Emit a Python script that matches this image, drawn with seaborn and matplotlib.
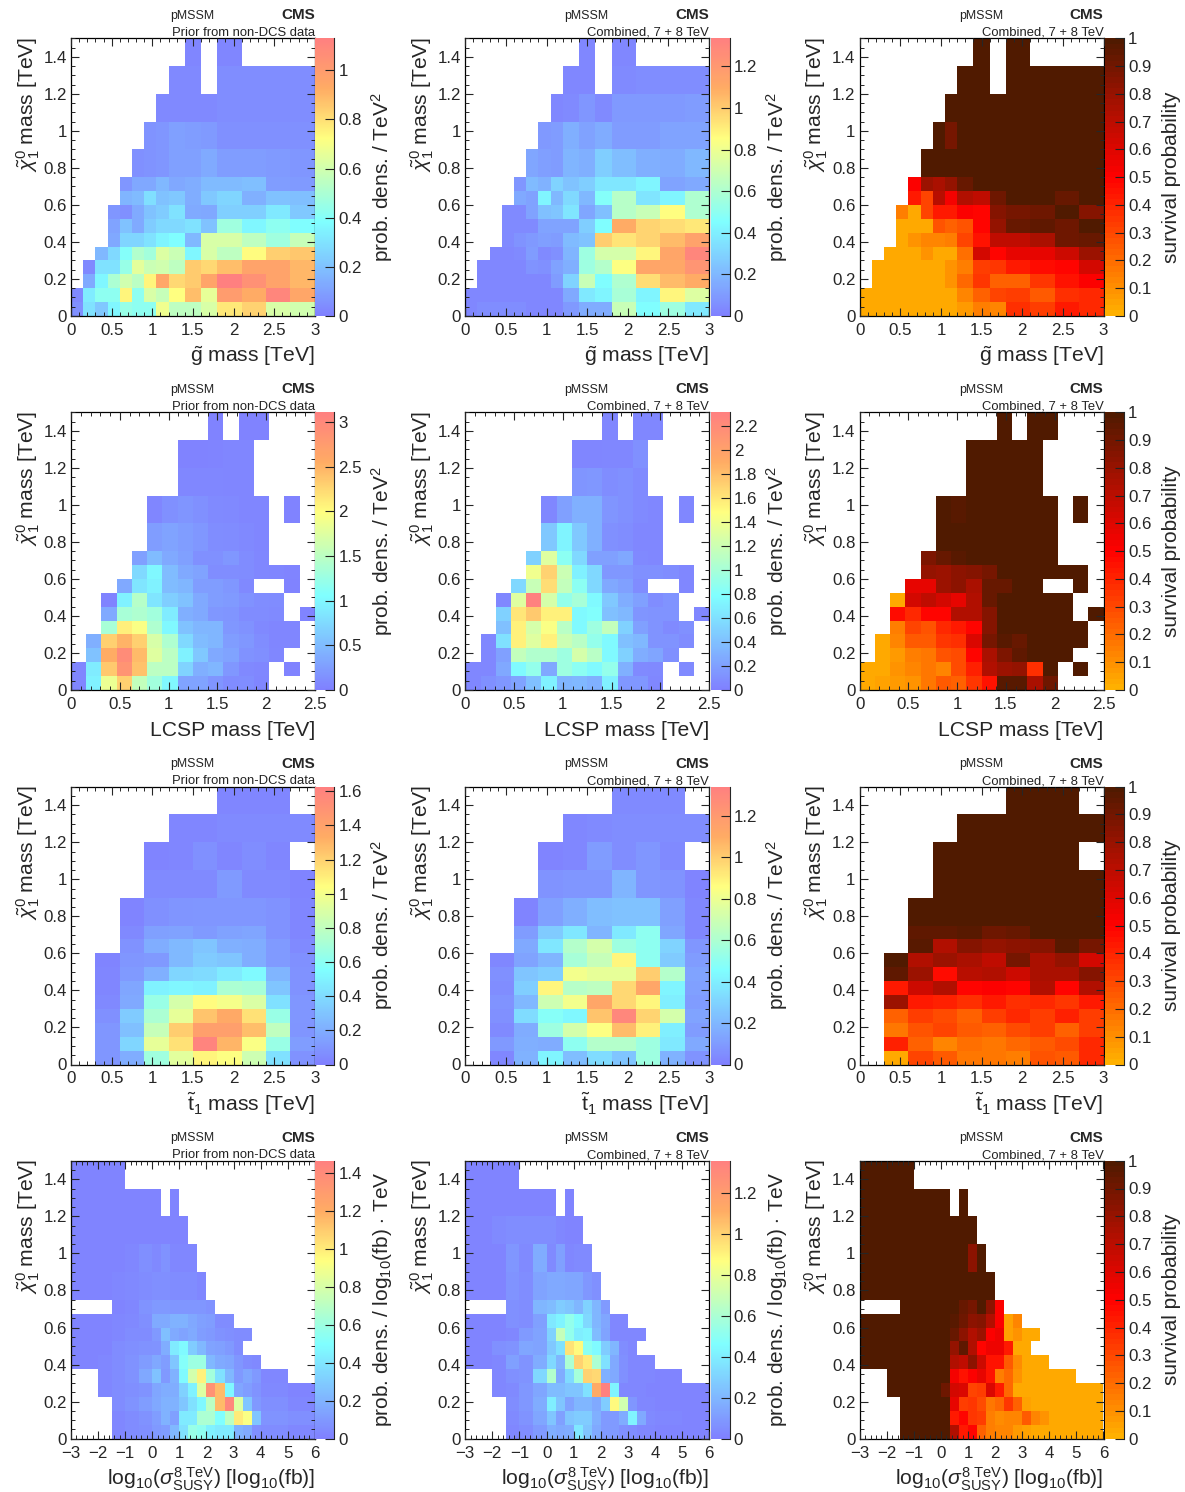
import numpy as np
import matplotlib
matplotlib.use("Agg")
import matplotlib.pyplot as plt
from matplotlib.colors import LinearSegmentedColormap
import seaborn as sns

n = np.nan

# Bin edges of the four scans
y_edges = [0, .075, .15, .225, .3, .375, .45, .525, .6, .675, .75, .9, 1.05, 1.2, 1.35, 1.5]
gluino_edges = [0, .15, .3, .45, .6, .75, .9, 1.05, 1.2, 1.4, 1.6, 1.8, 2.1, 2.4, 2.7, 3]
lcsp_edges = [i * 2.5 / 16 for i in range(17)]
stop_edges = [0, .3, .6, .9, 1.2, 1.5, 1.8, 2.1, 2.4, 2.7, 3]
sigma_edges = [-3, -2, -1.5, -1, -.5, 0, 1/3, 2/3, 1, 4/3, 5/3, 2, 7/3, 8/3, 3, 10/3, 11/3, 4, 5, 6]

# Values, rows written from top (1.35-1.5) to bottom (0-0.075)
gluino_prior = [
    [n]*9 + [.02, n, .02, n, n, n],
    [n]*8 + [.03, .03, n, .04, .04, .04, .04],
    [n]*7 + [.03, .03, .03, .03, .04, .04, .04, .04],
    [n]*6 + [.06, .07, .1, .09, .08, .05, .05, .05, .05],
    [n]*5 + [.05, .06, .07, .1, .1, .13, .09, .09, .08, .07],
    [n]*4 + [.07, .12, .12, .17, .12, .14, .18, .18, .19, .09, .08],
    [n]*4 + [.16, .18, .29, .2, .22, .14, .22, .26, .15, .2, .19],
    [n]*3 + [.07, .05, .13, .2, .23, .3, .13, .12, .24, .24, .32, .22],
    [n]*3 + [.11, .2, .13, .23, .27, .27, .3, .2, .47, .36, .42, .38],
    [n]*3 + [.12, .26, .26, .3, .35, .38, .17, .62, .62, .55, .47, .57],
    [n]*2 + [.17, .27, .4, .52, .48, .63, .58, .36, .62, .55, .73, .84, .86],
    [n] + [.03, .3, .3, .45, .65, .58, .6, .55, .85, .82, .88, .97, .97, .9],
    [n] + [.13, .36, .5, .6, .54, .75, .95, .82, .85, .96, 1.13, 1.05, .97, .9],
    [.03, .33, .42, .42, .75, .42, .62, .57, .72, .88, .66, 1.0, .93, 1.1, .95],
    [.05, .3, .22, .36, .45, .42, .42, .68, .55, .55, .62, .78, .83, .62, .6],
]
gluino_comb = [
    [n]*9 + [.03, n, .03, n, n, n],
    [n]*8 + [.03, .03, n, .04, .05, .05, .05],
    [n]*7 + [.03, .04, .08, .04, .09, .09, .09, .1],
    [n]*6 + [.09, .1, .17, .12, .16, .1, .1, .13, .13],
    [n]*5 + [.14, .11, .1, .19, .17, .28, .22, .17, .16, .2],
    [n]*4 + [.08, .21, .18, .3, .24, .28, .37, .37, .42, .13, .15],
    [n]*4 + [.15, .12, .42, .2, .32, .2, .47, .63, .36, .42, .6],
    [n]*3 + [.04, .04, .12, .23, .25, .36, .14, .23, .63, .68, .86, .6],
    [n]*3 + [.04, .04, .04, .13, .13, .13, .28, .45, 1.1, .98, .95, .92],
    [n]*3 + [.04, .07, .09, .11, .1, .21, .24, 1.0, .93, .98, 1.05, 1.15],
    [n]*2 + [.03, .03, .04, .1, .04, .06, .19, .55, .72, .72, .88, 1.13, 1.3],
    [n] + [.03, .03, .03, .03, .07, .06, .12, .17, .55, .62, .85, 1.13, 1.12, 1.22],
    [n] + [.03, .03, .03, .03, .03, .03, .1, .3, .68, .45, .6, .95, 1.05, 1.1],
    [.03, .03, .03, .03, .03, .03, .03, .03, .15, .38, .42, .58, .42, .88, .75],
    [.03, .05, .05, .05, .05, .03, .03, .03, .09, .16, .16, .68, .45, .55, .38],
]
gluino_surv = [
    [n]*9 + [1, n, 1, n, n, n],
    [n]*8 + [1, 1, n, 1, 1, 1, 1],
    [n]*7 + [1, 1, 1, 1, 1, 1, 1, 1],
    [n]*6 + [1, .88, 1, 1, 1, 1, 1, 1, 1],
    [n]*5 + [1, 1, 1, 1, 1, 1, 1, 1, 1, 1],
    [n]*4 + [.5, .78, .75, .8, .93, 1, 1, 1, 1, 1, 1],
    [n]*4 + [.42, .3, .7, .52, .72, .68, .9, 1, 1, .93, 1],
    [n]*3 + [.15, .02, .3, .42, .43, .5, .48, .85, .88, .9, .99, .85],
    [n]*3 + [.02, .02, .02, .27, .22, .27, .48, .8, .92, .95, .9, .98],
    [n]*3 + [.02, .08, .12, .12, .15, .3, .45, .68, .68, .75, .9, .92],
    [n]*2 + [.02, .02, .02, .08, .02, .02, .18, .63, .48, .58, .58, .65, .78],
    [n] + [.02, .02, .02, .02, .03, .02, .08, .14, .33, .35, .42, .47, .48, .62],
    [n] + [.02, .02, .02, .02, .02, .02, .08, .2, .35, .22, .22, .35, .45, .5],
    [.03, .02, .02, .02, .02, .02, .02, .02, .12, .22, .3, .32, .25, .37, .38],
    [.03, .02, .02, .02, .02, .02, .02, .02, .07, .15, .12, .37, .32, .42, .38],
]

lcsp_prior = [
    [n]*9 + [.03, n, .03, .03, n, n, n],
    [n]*7 + [.03, .03, .04, .05, .05] + [n]*4,
    [n]*7 + [.07, .07, .07, .05, .05] + [n]*4,
    [n]*5 + [.05, .14, .18, .14, .09, .08, .05, .05] + [n, .03, n],
    [n]*5 + [.25, .3, .25, .2, .12, .1, .08, .06] + [n]*3,
    [n]*4 + [.27, .5, .35, .27, .14, .14, .2, .1, .07] + [n]*3,
    [n]*4 + [.75, 1.0, .5, .35, .3, .12, .12, .1, .07, .05, .04] + [n],
    [n]*3 + [.35, .85, .95, .5, .45, .25, .25, .2, .08] + [n, n, .03, n],
    [n]*2 + [.03, .95, 1.45, .85, .65, .55, .35, .25, .22, .15, .12, .1] + [n, n],
    [n]*2 + [.35, 1.35, 1.4, 1.3, .9, .4, .35, .2, .18, .1, .1, .09] + [n, .04],
    [n]*2 + [1.35, 2.1, 1.95, 1.4, 1.0, .55, .45, .45, .2, .15, .08, .05, .05] + [n],
    [n] + [.4, 2.3, 2.5, 2.3, 1.7, 1.4, .75, .5, .45, .25, .2, .12, .05, .05] + [n],
    [n] + [.55, 2.55, 2.95, 2.45, 1.75, 1.5, .95, .6, .35, .3, .15, .13, .07] + [n, n],
    [.05, .9, 2.35, 2.85, 2.4, 1.5, 1.5, .7, .4, .45, .2, .08, .07] + [n, .03, n],
    [.05, .95, 1.85, 2.3, 1.55, 1.3, 1.0, .3, .3, .18, .1, .12, .05] + [n]*3,
]
lcsp_comb = [
    [n]*9 + [.05, n, .05, .05, n, n, n],
    [n]*7 + [.04, .04, .05, .05, .1] + [n]*4,
    [n]*7 + [.13, .15, .09, .1, .07] + [n]*4,
    [n]*5 + [.05, .2, .3, .3, .13, .1, .07, .05] + [n, .05, n],
    [n]*5 + [.45, .72, .45, .3, .1, .09, .05, .05] + [n]*3,
    [n]*4 + [.5, 1.3, .85, .55, .2, .2, .25, .06, .05] + [n]*3,
    [n]*4 + [1.4, 1.7, 1.2, .7, .55, .15, .15, .1, .1, .09, .05] + [n],
    [n]*3 + [.55, 1.18, 1.65, 1.15, .85, .55, .25, .2, .08] + [n, n, .05, n],
    [n]*2 + [.05, 1.3, 2.3, 1.25, .9, 1.0, .75, .45, .28, .2, .09, .12] + [n, n],
    [n]*2 + [.5, 1.6, 1.75, 1.55, 1.55, .75, .8, .4, .35, .13, .12, .12] + [n, .05],
    [n]*2 + [.4, 1.55, 1.25, 1.45, 1.1, .75, .95, 1.15, .5, .2, .12, .07, .1] + [n],
    [n] + [.05, .6, 1.55, 1.3, 1.55, 1.2, 1.1, .9, .75, .4, .35, .12, .12, .08] + [n],
    [n] + [.05, .2, 1.15, 1.05, 1.05, .95, 1.25, 1.1, .75, .5, .28, .23, .1] + [n, n],
    [.05, .05, .25, .75, .9, .25, .95, .85, .75, .9, .3, .07, .06] + [n, .07, n],
    [.05, .1, .15, .22, .4, .7, .33, .35, .3, .7, .15, .15, .05] + [n]*3,
]
lcsp_surv = [
    [n]*9 + [1, n, 1, 1, n, n, n],
    [n]*7 + [1, 1, 1, 1, 1] + [n]*4,
    [n]*7 + [1, 1, 1, 1, 1] + [n]*4,
    [n]*5 + [1, .97, 1, 1, 1, 1, 1, 1] + [n, 1, n],
    [n]*5 + [1, 1, 1, 1, 1, 1, 1, 1] + [n]*3,
    [n]*4 + [.87, .93, .96, 1, 1, 1, 1, 1, 1] + [n]*3,
    [n]*4 + [.8, .78, .82, .85, .88, 1, 1, 1, 1, 1, 1] + [n],
    [n]*3 + [.58, .58, .78, .82, .75, .92, .92, 1, 1] + [n, n, 1, n],
    [n]*2 + [.02, .62, .68, .62, .58, .72, .92, 1, 1, 1, 1, 1] + [n, n],
    [n]*2 + [.47, .38, .48, .48, .72, .72, .85, 1, 1, 1, 1, 1] + [n, 1],
    [n]*2 + [.15, .3, .27, .38, .42, .48, .85, 1, 1, 1, 1, 1, 1] + [n],
    [n] + [.03, .12, .24, .24, .35, .37, .6, .88, .97, .93, 1, 1, 1, 1] + [n],
    [n] + [.03, .07, .14, .17, .27, .28, .48, .75, .87, .95, 1, 1, 1] + [n, n],
    [.02, .02, .09, .12, .17, .12, .28, .4, .72, .78, .8, .37, 1] + [n, 1, n],
    [.02, .05, .07, .08, .16, .25, .22, .35, .45, .97, .97, .75, .9] + [n]*3,
]

stop_prior = [
    [n]*6 + [.03, .03, .03] + [n],
    [n]*4 + [.03, .03, .05, .05, .05, .05],
    [n]*3 + [.02, .03, .07, .03, .06, .03] + [n],
    [n]*3 + [.05, .05, .05, .12, .05, .05, .02],
    [n]*2 + [.02, .07, .09, .1, .1, .1, .08, .03],
    [n]*2 + [.04, .14, .15, .12, .15, .16, .08, .03],
    [n]*2 + [.08, .2, .25, .3, .21, .2, .12, .05],
    [n] + [.02, .1, .11, .25, .33, .3, .2, .12, .07],
    [n] + [.03, .12, .21, .38, .4, .47, .53, .23, .08],
    [n] + [.03, .17, .5, .52, .5, .72, .7, .3, .08],
    [n] + [.04, .18, .65, .88, 1.05, 1.0, .9, .42, .1],
    [n] + [.07, .33, .72, .95, 1.25, 1.35, 1.15, .65, .1],
    [n] + [.1, .28, .82, 1.22, 1.42, 1.42, 1.27, .8, .09],
    [n] + [.1, .38, .95, 1.15, 1.6, 1.3, 1.02, .65, .13],
    [n] + [.1, .2, .68, .93, 1.08, 1.03, .85, .42, .08],
]
stop_comb = [
    [n]*6 + [.04, .04, .04] + [n],
    [n]*4 + [.03, .04, .05, .05, .05, .05],
    [n]*3 + [.02, .03, .1, .05, .08, .04] + [n],
    [n]*3 + [.07, .08, .08, .19, .08, .07, .02],
    [n]*2 + [.02, .12, .17, .22, .24, .24, .12, .03],
    [n]*2 + [.1, .27, .37, .19, .38, .5, .14, .03],
    [n]*2 + [.15, .37, .62, .72, .55, .5, .3, .08],
    [n] + [.03, .13, .19, .58, .68, .88, .5, .27, .1],
    [n] + [.06, .25, .28, .82, .78, .78, 1.0, .62, .13],
    [n] + [.05, .28, .88, .63, .65, .97, 1.13, .42, .12],
    [n] + [.07, .2, .7, .82, 1.13, .97, .88, .4, .1],
    [n] + [.06, .33, .48, .43, 1.03, 1.3, .98, .72, .13],
    [n] + [.04, .16, .55, .72, .85, 1.05, .9, .4, .1],
    [n] + [.09, .17, .16, .5, .62, .62, .55, .38, .15],
    [n] + [.03, .18, .42, .22, .33, .25, .55, .18, .07],
]
stop_surv = [
    [n]*6 + [1, 1, 1] + [n],
    [n]*4 + [1, 1, 1, 1, 1, 1],
    [n]*3 + [1, 1, 1, 1, 1, 1] + [n],
    [n]*3 + [1, 1, .98, 1, 1, 1, 1],
    [n]*2 + [1, 1, 1, 1, 1, 1, 1, 1],
    [n]*2 + [.95, .95, .96, .9, .93, 1, 1, 1],
    [n]*2 + [.97, .72, .85, .8, .82, .85, .97, .88],
    [n] + [1, .72, .78, .75, .68, .88, .75, .8, .62],
    [n] + [.95, .78, .47, .7, .72, .65, .75, .75, .85],
    [n] + [.42, .65, .72, .48, .5, .48, .72, .48, .72],
    [n] + [.78, .43, .4, .37, .42, .37, .38, .35, .42],
    [n] + [.22, .33, .28, .22, .32, .38, .33, .4, .33],
    [n] + [.17, .27, .3, .24, .23, .28, .32, .23, .33],
    [n] + [.4, .22, .13, .18, .17, .2, .24, .28, .38],
    [n] + [.02, .3, .25, .17, .16, .15, .27, .25, .38],
]

sigma_prior = [
    [.02, .02, .02] + [n]*16,
    [.02, .02, .02, .02, .02, .02, n, .02] + [n]*11,
    [.02, .02, .02, .02, .02, .02, .02, .02, .02] + [n]*10,
    [.02, .02, .02, .03, .06, .04, .07, .03, .03, .03] + [n]*9,
    [.02, .02, .03, .04, .05, .06, .06, .05, .05, .05, .03] + [n]*8,
    [n]*2 + [.02, .03, .08, .1, .1, .09, .09, .09, .09, .07] + [n]*7,
    [.02, .02, .03, .04, .06, .17, .17, .2, .2, .16, .13, .12, .05, .05] + [n]*5,
    [.02, .02, .03, .05, .05, .1, .25, .17, .14, .17, .12, .1, .07, .06, .05, .05] + [n]*3,
    [.02, .02, .05, .06, .07, .08, .18, .42, .48, .3, .22, .14, .13, .1, .05] + [n]*4,
    [.02, .03, .05, .07, .11, .16, .12, .28, .52, .6, .6, .22, .17, .15, .09, .05, .04] + [n]*2,
    [n] + [.03, .05, .07, .16, .26, .1, .2, .48, .78, .98, .62, .38, .22, .1, .15, .1, .03] + [n],
    [n] + [.03, .05, .06, .08, .15, .18, .18, .32, .45, .82, 1.35, 1.15, .47, .15, .12, .08, .04, .02],
    [n]*2 + [.05, .08, .12, .16, .2, .2, .28, .38, .47, .7, 1.15, 1.42, .82, .28, .1, .06, .03],
    [n]*2 + [.03, .05, .07, .12, .2, .13, .42, .42, .65, .65, .5, .7, 1.0, .92, .27, .08, .06],
    [n]*2 + [.03, .05, .06, .1, .12, .22, .38, .58, .55, .45, .42, .42, .2, .17, .06, .05, .03],
]
sigma_comb = [
    [.02, .02, .02] + [n]*16,
    [.02, .02, .02, .02, .02, .02, n, .02] + [n]*11,
    [.02, .04, .05, .05, .05, .05, .03, .02, .02] + [n]*10,
    [.02, .02, .08, .04, .16, .04, .12, .03, .04, .04] + [n]*9,
    [.02, .02, .07, .05, .13, .15, .15, .14, .14, .09, .06] + [n]*8,
    [n]*2 + [.06, .05, .2, .22, .28, .25, .2, .3, .2, .1] + [n]*7,
    [.02, .02, .06, .05, .12, .38, .42, .52, .45, .32, .2, .14, .03, .03] + [n]*5,
    [.02, .02, .03, .1, .13, .3, .68, .52, .4, .42, .22, .13, .03, .03, .03, .03] + [n]*3,
    [.02, .06, .07, .14, .13, .26, .35, .95, .88, .5, .45, .28, .2, .05, .03] + [n]*4,
    [.02, .03, .12, .07, .16, .32, .2, .6, 1.0, .93, .6, .35, .15, .06, .03, .03, .03] + [n]*2,
    [n] + [.03, .06, .07, .32, .62, .16, .33, .58, 1.0, .98, .18, .15, .06, .03, .03, .03, .02] + [n],
    [n] + [.03, .04, .09, .14, .22, .22, .25, .25, .35, 1.12, 1.35, .42, .03, .03, .03, .02, .02, .02],
    [n]*2 + [.05, .09, .16, .4, .25, .13, .2, .2, .15, .28, .88, .72, .08, .03, .03, .02, .02],
    [n]*2 + [.04, .07, .14, .25, .12, .25, .28, .28, .17, .1, .1, .16, .42, .15, .04, .03, .02],
    [n]*2 + [.03, .05, .1, .17, .15, .16, .38, .25, .15, .1, .1, .06, .05, .03, .03, .02, .02],
]
sigma_surv = [
    [1, 1, 1] + [n]*16,
    [1, 1, 1, 1, 1, 1, n, 1] + [n]*11,
    [1, 1, 1, 1, 1, 1, 1, 1, 1] + [n]*10,
    [1, 1, 1, 1, 1, 1, 1, 1, .82, 1] + [n]*9,
    [1, 1, 1, 1, 1, 1, 1, 1, 1, 1, 1] + [n]*8,
    [n]*2 + [1, 1, 1, 1, 1, .93, .88, .98, .82, .5] + [n]*7,
    [1, 1, 1, 1, 1, 1, .96, .9, .82, .85, .72, .5, .05, .13] + [n]*5,
    [1, 1, 1, 1, 1, .98, .93, .82, .73, .78, .5, .55, .05, .08, .02, .02] + [n]*3,
    [1, 1, 1, 1, 1, 1, .8, .95, .72, .48, .55, .55, .42, .02, .02] + [n]*4,
    [1, 1, 1, 1, 1, .98, .72, .68, .82, .65, .45, .45, .25, .1, .02, .02, .02] + [n]*2,
    [n] + [1, 1, 1, 1, 1, .52, .45, .5, .58, .45, .15, .2, .08, .02, .02, .02, .02] + [n],
    [n] + [1, 1, 1, 1, .9, .62, .6, .3, .32, .6, .42, .2, .03, .02, .02, .02, .02, .02],
    [n]*2 + [1, 1, 1, 1, .58, .33, .35, .28, .17, .2, .35, .22, .05, .02, .02, .02, .02],
    [n]*2 + [1, 1, 1, 1, .42, .48, .35, .33, .15, .1, .12, .13, .25, .13, .08, .02, .02],
    [n]*2 + [1, 1, 1, 1, .72, .42, .48, .22, .15, .13, .12, .06, .05, .02, .02, .02, .02],
]

# Colour scale tops and tick labels
scale_tops = [[1.13, 1.335, 1], [3.11, 2.31, 1], [1.627, 1.34, 1], [1.463, 1.356, 1]]
cbar_ticks = [
    [[0, .2, .4, .6, .8, 1], [0, .2, .4, .6, .8, 1, 1.2]],
    [[0, .5, 1, 1.5, 2, 2.5, 3], [0, .2, .4, .6, .8, 1, 1.2, 1.4, 1.6, 1.8, 2, 2.2]],
    [[0, .2, .4, .6, .8, 1, 1.2, 1.4, 1.6], [0, .2, .4, .6, .8, 1, 1.2]],
    [[0, .2, .4, .6, .8, 1, 1.2, 1.4], [0, .2, .4, .6, .8, 1, 1.2]],
]
surv_ticks = [0, .1, .2, .3, .4, .5, .6, .7, .8, .9, 1]
y_ticks = [0, .2, .4, .6, .8, 1, 1.2, 1.4]

sns.set_style("ticks")
plt.rcParams["font.family"] = ["Liberation Sans", "DejaVu Sans"]
plt.rcParams["mathtext.fontset"] = "custom"
plt.rcParams["mathtext.rm"] = "Liberation Sans"
plt.rcParams["mathtext.it"] = "Liberation Sans:italic"
plt.rcParams["mathtext.bf"] = "Liberation Sans:bold"
plt.rcParams["axes.linewidth"] = 0.9

rainbow = LinearSegmentedColormap.from_list("pale_rainbow", [
    (0, (128/255, 128/255, 1)), (.34, (128/255, 1, 1)), (.64, (1, 1, 128/255)),
    (.82, (1, 172/255, 100/255)), (1, (1, 128/255, 128/255))], N=256)
fire = LinearSegmentedColormap.from_list("survival", [
    (0, (1, 176/255, 0)), (.5, (1, 0, 0)), (.75, (172/255, 16/255, 0)),
    (1, (80/255, 26/255, 0))], N=50)

FIG_W, FIG_H = 1185, 1492
fig = plt.figure(figsize=(FIG_W / 100, FIG_H / 100), dpi=100)

col_left = [71, 465.3, 859.7]
cbar_left = [315.3, 710.5, 1104.8]
row_top = [38.3, 412.3, 786.7, 1160.7]
row_bottom = [316, 690, 1064.5, 1438.7]
AX_W, CB_W = 243.8, 19


def label(v):
    if v < 0:
        return "\u2212" + label(-v)
    return f"{v:g}"


def blow_up(values, x_edges, step):
    # heatmap cells are uniform, so wide bins are repeated onto a finer grid
    arr = np.array(values, dtype=float)
    rep_x = np.round(np.diff(x_edges) / step).astype(int)
    rep_y = np.round(np.diff(y_edges) / .075).astype(int)[::-1]
    return np.repeat(np.repeat(arr, rep_y, axis=0), rep_x, axis=1)


def panel(r, c, values, x_edges, step, xlabel, x_major, x_minor, vmax, ticks, cbar_label, note):
    top, bottom = row_top[r], row_bottom[r]
    ax = fig.add_axes([col_left[c] / FIG_W, 1 - bottom / FIG_H, AX_W / FIG_W, (bottom - top) / FIG_H])
    cax = fig.add_axes([cbar_left[c] / FIG_W, 1 - bottom / FIG_H, CB_W / FIG_W, (bottom - top) / FIG_H])
    grid = blow_up(values, x_edges, step)
    sns.heatmap(grid, ax=ax, cbar_ax=cax, cmap=fire if c == 2 else rainbow, vmin=0, vmax=vmax,
                xticklabels=False, yticklabels=False)

    x_lo, x_hi = x_edges[0], x_edges[-1]
    to_x = lambda v: (np.asarray(v) - x_lo) / (x_hi - x_lo) * grid.shape[1]
    to_y = lambda v: (1.5 - np.asarray(v)) / 1.5 * grid.shape[0]
    ax.set_xticks(to_x(x_major))
    ax.set_xticklabels([label(v) for v in x_major])
    ax.set_xticks(to_x(x_minor), minor=True)
    ax.set_yticks(to_y(y_ticks))
    ax.set_yticklabels([label(v) for v in y_ticks], rotation=0)
    ax.set_yticks(to_y(np.arange(0, 1.501, .05)), minor=True)
    ax.set_axisbelow(False)
    for s in ax.spines.values():
        s.set_visible(True)
        s.set_linewidth(0.9)
        s.set_color("black")
    ax.tick_params(which="major", direction="in", top=True, right=True, length=6, width=0.8, labelsize=12.2)
    ax.tick_params(axis="x", which="major", pad=5)
    ax.tick_params(axis="y", which="major", pad=3)
    ax.tick_params(which="minor", direction="in", top=True, right=True, length=3, width=0.7)

    cb = ax.collections[0].colorbar
    cb.outline.set_visible(False)
    cb.set_ticks(ticks)
    cb.set_ticklabels([label(v) for v in ticks])
    cb.ax.set_axisbelow(False)
    cb.ax.minorticks_off()
    cb.ax.spines["right"].set_visible(True)
    cb.ax.spines["right"].set_linewidth(0.8)
    cb.ax.tick_params(direction="in", right=True, length=6.5, width=0.8, labelsize=12.2, pad=3, color="#222222")

    right = col_left[c] + AX_W
    ax.set_xlabel("")
    ax.set_ylabel("")
    txt = lambda x, y, s, **kw: fig.text(x / FIG_W, 1 - y / FIG_H, s, **kw)
    txt(col_left[c] + 99, top - 19.5, "pMSSM", fontsize=8.9, ha="left", va="baseline", color="#222222")
    txt(right, top - 19, "CMS", fontsize=11, fontweight="bold", ha="right", va="baseline")
    txt(right, top - 2.5, note, fontsize=9.4, ha="right", va="baseline", color="#222222")
    txt(right, bottom + 46.5, xlabel, fontsize=15.2, ha="right", va="baseline")
    txt(col_left[c] - 43, top - 2, r"$\tilde{\chi}_{1}^{0}$ mass [TeV]", fontsize=15.2, rotation=90,
        ha="center", va="top", rotation_mode="default")
    txt(cbar_left[c] + 67, (top + bottom) / 2, cbar_label, fontsize=15, rotation=90, ha="center", va="center")


prior_note = "Prior from non-DCS data"
comb_note = "Combined, 7 + 8 TeV"
dens = "prob. dens. / TeV$^{2}$"
dens_sigma = r"prob. dens. / log$_{10}$(fb) $\cdot$ TeV"
surv = "survival probability"

mass_major = [0, .5, 1, 1.5, 2, 2.5, 3]
mass_minor = np.arange(0, 3.001, .1)
lcsp_major = [0, .5, 1, 1.5, 2, 2.5]
lcsp_minor = np.arange(0, 2.501, .1)
sigma_major = [-3, -2, -1, 0, 1, 2, 3, 4, 5, 6]
sigma_minor = np.arange(-3, 6.001, .2)
sigma_label = r"log$_{10}$($\sigma_{\mathrm{SUSY}}^{8\ \mathrm{TeV}}$) [log$_{10}$(fb)]"

scans = [
    ((gluino_prior, gluino_comb, gluino_surv), gluino_edges, .05, r"$\tilde{\mathrm{g}}$ mass [TeV]", mass_major, mass_minor, dens),
    ((lcsp_prior, lcsp_comb, lcsp_surv), lcsp_edges, 2.5 / 16, "LCSP mass [TeV]", lcsp_major, lcsp_minor, dens),
    ((stop_prior, stop_comb, stop_surv), stop_edges, .3, r"$\tilde{\mathrm{t}}_{1}$ mass [TeV]", mass_major, mass_minor, dens),
    ((sigma_prior, sigma_comb, sigma_surv), sigma_edges, 1 / 6, sigma_label, sigma_major, sigma_minor, dens_sigma),
]

for r, (tables, edges, step, xlab, major, minor, dlab) in enumerate(scans):
    for c in range(3):
        ticks = surv_ticks if c == 2 else cbar_ticks[r][c]
        panel(r, c, tables[c], edges, step, xlab, major, minor, scale_tops[r][c], ticks,
              surv if c == 2 else dlab, prior_note if c == 0 else comb_note)

fig.savefig("out.png", dpi=100)
